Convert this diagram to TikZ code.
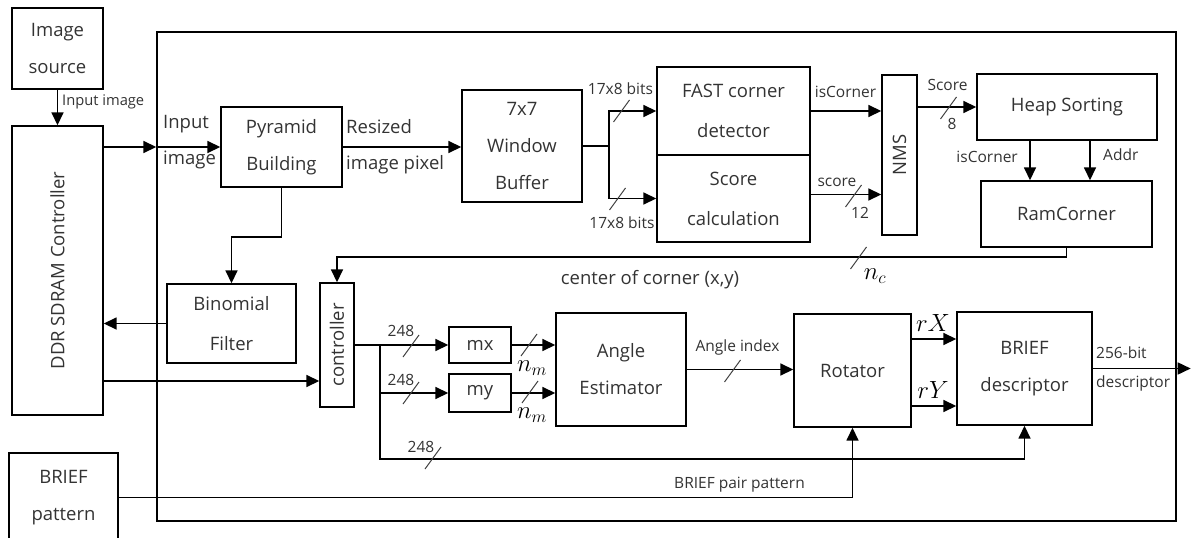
\documentclass[tikz,border=0pt]{standalone}
\usepackage{fontspec}
\setmainfont{Open Sans}
\usepackage{graphicx}
\usepackage{tikz}
\usetikzlibrary{arrows.meta,calc}

\begin{document}
\begin{tikzpicture}[x=1pt,y=-1pt,
    blok/.style={rectangle,draw,line width=1.4pt,inner sep=0pt,align=center,
                 text=black!80,font=\fontsize{18.5}{37}\selectfont},
    strelica/.style={-{Triangle[length=13pt,width=12pt]},line width=1.6pt},
    veza/.style={line width=1.6pt},
    oznaka/.style={text=black!80,font=\fontsize{15.5}{31}\selectfont,inner sep=1pt},
    velika/.style={text=black!80,font=\fontsize{18.5}{36}\selectfont,inner sep=1pt,align=left},
    mat/.style={font=\fontsize{23}{23}\selectfont,inner sep=0pt},
    matn/.style={font=\fontsize{27}{27}\selectfont,inner sep=0pt},
    crtica/.pic={\draw[line width=1pt,black!75] (-8,11) -- (8,-11);}
]
\useasboundingbox (0,0) rectangle (1195,538);

% okvir
\node[draw,line width=1.4pt,minimum width=1019pt,minimum height=489pt] (fpga) at (666.5,276.5) {};

% blokovi
\node[blok,minimum width=91pt,minimum height=81pt] (src) at (57.5,48.5) {Image\\source};
\node[blok,minimum width=91pt,minimum height=289pt] (ddr) at (57.5,270.5) {\rotatebox{90}{DDR SDRAM Controller}};
\node[blok,minimum width=109pt,minimum height=89pt] (pat) at (63.5,497.5) {BRIEF\\pattern};
\node[blok,minimum width=121pt,minimum height=80pt] (pyr) at (281.5,147) {Pyramid\\Building};
\node[blok,minimum width=120pt,minimum height=112pt] (win) at (522,146) {7x7\\Window\\Buffer};
\node[blok,minimum width=153pt,minimum height=88pt,font=\fontsize{18.5}{40}\selectfont] (fast) at (733.5,111) {FAST corner\\detector};
\node[blok,minimum width=153pt,minimum height=87pt,font=\fontsize{18.5}{40}\selectfont] (score) at (733.5,198.5) {Score\\calculation};
\node[blok,minimum width=35pt,minimum height=160pt] (nms) at (899.5,155) {\rotatebox{90}{NMS}};
\node[blok,minimum width=180pt,minimum height=66pt] (heap) at (1067,107) {Heap Sorting};
\node[blok,minimum width=171pt,minimum height=66pt] (ram) at (1066.5,214) {RamCorner};
\node[blok,minimum width=129pt,minimum height=79pt,font=\fontsize{18.5}{40}\selectfont] (binom) at (231.5,323.5) {Binomial\\Filter};
\node[blok,minimum width=34pt,minimum height=124pt] (ctrl) at (337,345) {\rotatebox{90}{controller}};
\node[blok,minimum width=62pt,minimum height=36pt] (mx) at (480,345) {mx};
\node[blok,minimum width=62pt,minimum height=38pt] (my) at (480,393) {my};
\node[blok,minimum width=130pt,minimum height=113pt] (angle) at (621,369.5) {Angle\\Estimator};
\node[blok,minimum width=117pt,minimum height=113pt] (rot) at (852.5,370.5) {Rotator};
\node[blok,minimum width=135pt,minimum height=113pt] (brief) at (1024.5,368.5) {BRIEF\\descriptor};

% ulaz slike
\draw[strelica] (src) -- (ddr);
\node[oznaka,anchor=west,font=\fontsize{14.7}{20}\selectfont] (lulaz) at (61,102) {Input image};
\coordinate (ulaz) at (fpga.west |- pyr.west);
\draw[strelica] (ulaz -| ddr.east) -- (ulaz);
\draw[strelica] (ulaz) -- (pyr.west);
\node[velika,anchor=west] (linput) at (162,142) {Input\\image};

% detekcija uglova
\draw[strelica] (pyr.east) -- (pyr.east -| win.west);
\node[velika,anchor=west] (lresized) at (345,147) {Resized\\image pixel};
\coordinate (grana) at ($(win.east)+(26,0)$);
\draw[veza] (win.east) -- (grana);
\draw[strelica] (grana) |- (fast.west);
\draw[strelica] (grana) |- (score.west);
\pic at (621.5,111) {crtica};
\pic at (617.5,199) {crtica};
\node[oznaka] (lbits1) at (620.5,89) {17x8 bits};
\node[oznaka] (lbits2) at (622,223) {17x8 bits};

\draw[strelica] (fast.east) -- (fast.east -| nms.west);
\node[oznaka] (liscorner) at (845.5,92) {isCorner};
\coordinate (sc) at ([yshift=4pt]score.east);
\draw[strelica] (sc) -- (sc -| nms.west);
\node[oznaka] (lscore) at (837,182) {score};
\pic at (853.5,196) {crtica};
\node[oznaka] (l12) at (860,213) {12};

\draw[strelica] (nms.east |- heap.west) -- (heap.west);
\node[oznaka] (lscore2) at (947.5,85) {Score};
\pic at (948.5,108) {crtica};
\node[oznaka] (l8) at (952,124) {8};

\coordinate (hs1) at ([xshift=-37pt]heap.south);
\coordinate (hs2) at ([xshift=23pt]heap.south);
\draw[strelica] (hs1) -- (hs1 |- ram.north);
\draw[strelica] (hs2) -- (hs2 |- ram.north);
\node[oznaka,anchor=east] (liscorner2) at (1019,157) {isCorner};
\node[oznaka,anchor=west] (laddr) at (1102,155) {Addr};

% povratna veza ka kontroleru
\draw[strelica] (ram.south) -- ++(0,9) -| (ctrl.north);
\pic at (858.5,258) {crtica};
\node[matn] (lnc) at (875,276) {$n_c$};
\node[velika] (lcenter) at (650,280) {center of corner (x,y)};

% piramida i memorija
\draw[strelica] (pyr.south) -- ++(0,49) -| (binom.north);
\draw[strelica] (binom.west) -- (binom.west -| ddr.east);
\coordinate (cu) at ([yshift=-36pt]ctrl.west);
\draw[strelica] (cu -| ddr.east) -- (cu);

% opis
\coordinate (cv) at ($(ctrl.east)+(25,0)$);
\draw[strelica] (ctrl.east) -- (mx.west);
\draw[strelica] (cv) |- (my.west);
\draw[strelica] (cv) |- ($(brief.south)+(0,33)$) -- (brief.south);
\pic at (411,346) {crtica};
\pic at (411,393) {crtica};
\pic at (433,458) {crtica};
\node[oznaka] (l248a) at (401,331) {248};
\node[oznaka] (l248b) at (401,380) {248};
\node[oznaka] (l248c) at (421,447) {248};

\draw[strelica] (mx.east) -- (mx.east -| angle.west);
\draw[strelica] (my.east) -- (my.east -| angle.west);
\pic at (529,345) {crtica};
\pic at (530,392) {crtica};
\node[matn] (lnm1) at (532,368) {$n_m$};
\node[matn] (lnm2) at (532,415) {$n_m$};

\draw[strelica] (angle.east) -- (angle.east -| rot.west);
\node[oznaka] (langle) at (737.5,347) {Angle index};
\pic at (732.5,371) {crtica};

\coordinate (rx) at ([yshift=31.5pt]rot.east);
\coordinate (ry) at ([yshift=-35.5pt]rot.east);
\draw[strelica] (rx) -- (rx -| brief.west);
\draw[strelica] (ry) -- (ry -| brief.west);
\node[mat] (lrx) at (933,323) {$rX$};
\node[mat] (lry) at (933,390) {$rY$};

\coordinate (izlaz) at ($(brief.east)+(98,0)$);
\draw[strelica] (brief.east) -- (izlaz);
\node[oznaka,anchor=west] (l256) at (1095,353) {256-bit};
\node[oznaka,anchor=west] (ldesc) at (1095,383) {descriptor};

\draw[strelica] (pat.east) -| (rot.south);
\node[oznaka] (lpair) at (739.5,485) {BRIEF pair pattern};
\end{tikzpicture}
\end{document}
